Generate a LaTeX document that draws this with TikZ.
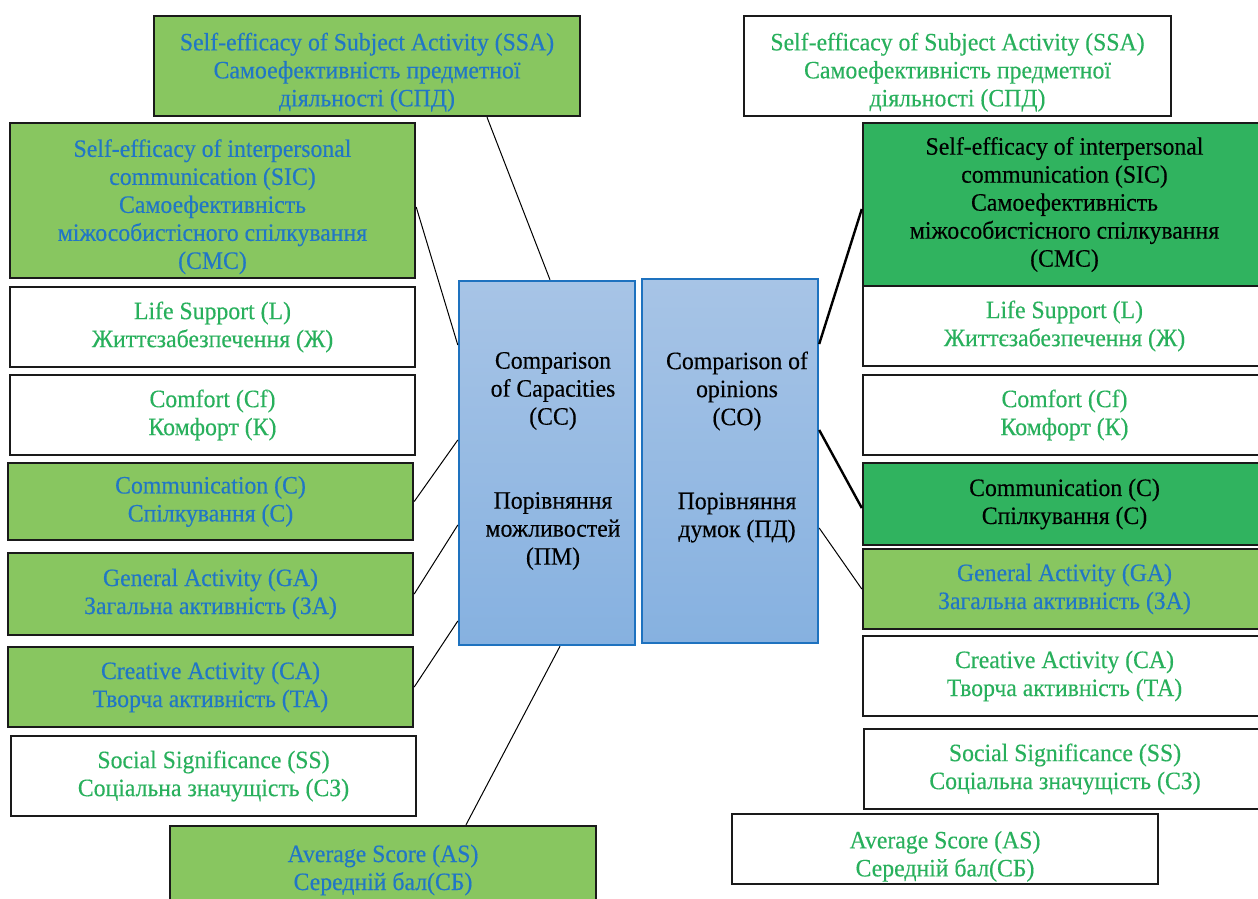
\documentclass[tikz,border=0pt]{standalone}
\usepackage{fontspec}
\setmainfont{Liberation Serif}[FakeStretch=0.95,FakeBold=0.3]
\definecolor{lightgreen}{HTML}{88C660}
\definecolor{darkgreen}{HTML}{30B35F}
\definecolor{textblue}{HTML}{2176C6}
\definecolor{textgreen}{HTML}{28B05C}
\definecolor{boxline}{HTML}{1A1A1A}
\definecolor{cmpblue}{HTML}{1E72BF}
\definecolor{cmptop}{HTML}{A7C4E6}
\definecolor{cmpbot}{HTML}{86B1E0}
\newcommand\pushdown{\rule{0pt}{30pt}}
\begin{document}
\begin{tikzpicture}[x=1pt,y=-1pt,
  box/.style={draw=boxline, line width=2.4pt, inner sep=0pt, align=center,
    font=\fontsize{25}{28}\selectfont},
  lg/.style={box, fill=lightgreen, text=textblue},
  dg/.style={box, fill=darkgreen, text=black},
  wh/.style={box, fill=white, text=textgreen},
  cmp/.style={draw=cmpblue, line width=2.4pt, top color=cmptop, bottom color=cmpbot,
    inner sep=0pt, minimum width=176pt, minimum height=364pt},
  cmptext/.style={align=center, inner sep=0pt, font=\fontsize{25}{28}\selectfont},
  link/.style={line width=1pt, black},
  boldlink/.style={line width=2.4pt, black}
]
\useasboundingbox (0,0) rectangle (1258,898);
\fill[white] (0,0) rectangle (1258,898);

% left column
\node[lg, minimum width=426pt, minimum height=100pt] (ssaL) at (367,66)
  {\pushdown Self-efficacy of Subject Activity (SSA)\\Самоефективність предметної\\діяльності (СПД)};
\node[lg, minimum width=405pt, minimum height=155pt] (sicL) at (212.5,200.5)
  {\pushdown Self-efficacy of interpersonal\\communication (SIC)\\Самоефективність\\міжособистісного спілкування\\(СМС)};
\node[wh, minimum width=405pt, minimum height=80pt] (lsL) at (212.5,327)
  {Life Support (L)\\Життєзабезпечення (Ж)};
\node[wh, minimum width=405pt, minimum height=80pt] (cfL) at (212.5,415)
  {Comfort (Cf)\\Комфорт (К)};
\node[lg, minimum width=405pt, minimum height=77pt] (cmL) at (210.5,501.5)
  {Communication (C)\\Спілкування (С)};
\node[lg, minimum width=405pt, minimum height=82pt] (gaL) at (210.5,594)
  {General Activity (GA)\\Загальна активність (ЗА)};
\node[lg, minimum width=405pt, minimum height=80pt] (caL) at (210.5,687)
  {Creative Activity (CA)\\Творча активність (ТА)};
\node[wh, minimum width=405pt, minimum height=80pt] (ssL) at (213.5,776)
  {Social Significance (SS)\\Соціальна значущість (СЗ)};
\node[lg, minimum width=426pt, minimum height=88pt] (asL) at (383,870)
  {Average Score (AS)\\Середній бал(СБ)};

% central boxes
\node[cmp] (cc) at (547,463) {};
\node[cmptext] (cct) at (553,461)
  {Comparison\\of Capacities\\(CC)\\[56pt]Порівняння\\можливостей\\(ПМ)};
\node[cmp] (co) at (730,461) {};
\node[cmptext] (cot) at (737,447)
  {Comparison of\\opinions\\(CO)\\[56pt]Порівняння\\думок (ПД)};

% right column
\node[wh, minimum width=427pt, minimum height=100pt] (ssaR) at (957.5,66)
  {\pushdown Self-efficacy of Subject Activity (SSA)\\Самоефективність предметної\\діяльності (СПД)};
\node[dg, minimum width=403pt, minimum height=163pt] (sicR) at (1064.5,204.5)
  {Self-efficacy of interpersonal\\communication (SIC)\\Самоефективність\\міжособистісного спілкування\\(СМС)};
\node[wh, minimum width=403pt, minimum height=80pt] (lsR) at (1064.5,326)
  {Life Support (L)\\Життєзабезпечення (Ж)};
\node[wh, minimum width=403pt, minimum height=80pt] (cfR) at (1064.5,415)
  {Comfort (Cf)\\Комфорт (К)};
\node[dg, minimum width=403pt, minimum height=82pt] (cmR) at (1064.5,504)
  {Communication (C)\\Спілкування (С)};
\node[lg, minimum width=403pt, minimum height=80pt] (gaR) at (1064.5,589)
  {General Activity (GA)\\Загальна активність (ЗА)};
\node[wh, minimum width=403pt, minimum height=80pt] (caR) at (1064.5,676)
  {Creative Activity (CA)\\Творча активність (ТА)};
\node[wh, minimum width=402pt, minimum height=80pt] (ssR) at (1065,769)
  {Social Significance (SS)\\Соціальна значущість (СЗ)};
\node[wh, minimum width=426pt, minimum height=70pt] (asR) at (945,849)
  {\rule{0pt}{32pt}Average Score (AS)\\Середній бал(СБ)};

% left connectors
\draw[link] ([xshift=120pt]ssaL.south) -- ([xshift=3pt]cc.north);
\draw[link] ([yshift=-6.5pt]sicL.east) -- ([yshift=118pt]cc.west);
\draw[link] (cmL.east) -- ([yshift=23pt]cc.west);
\draw[link] (gaL.east) -- ([yshift=-62pt]cc.west);
\draw[link] (caL.east) -- ([yshift=-158pt]cc.west);
\draw[link] ([xshift=83pt]asL.north) -- ([xshift=13pt]cc.south);

% right connectors
\draw[boldlink] ([yshift=-4.5pt]sicR.west) -- ([yshift=117pt]co.east);
\draw[boldlink] ([yshift=31pt]co.east) -- ([yshift=-4pt]cmR.west);
\draw[link] ([yshift=-67pt]co.east) -- (gaR.west);
\end{tikzpicture}
\end{document}
